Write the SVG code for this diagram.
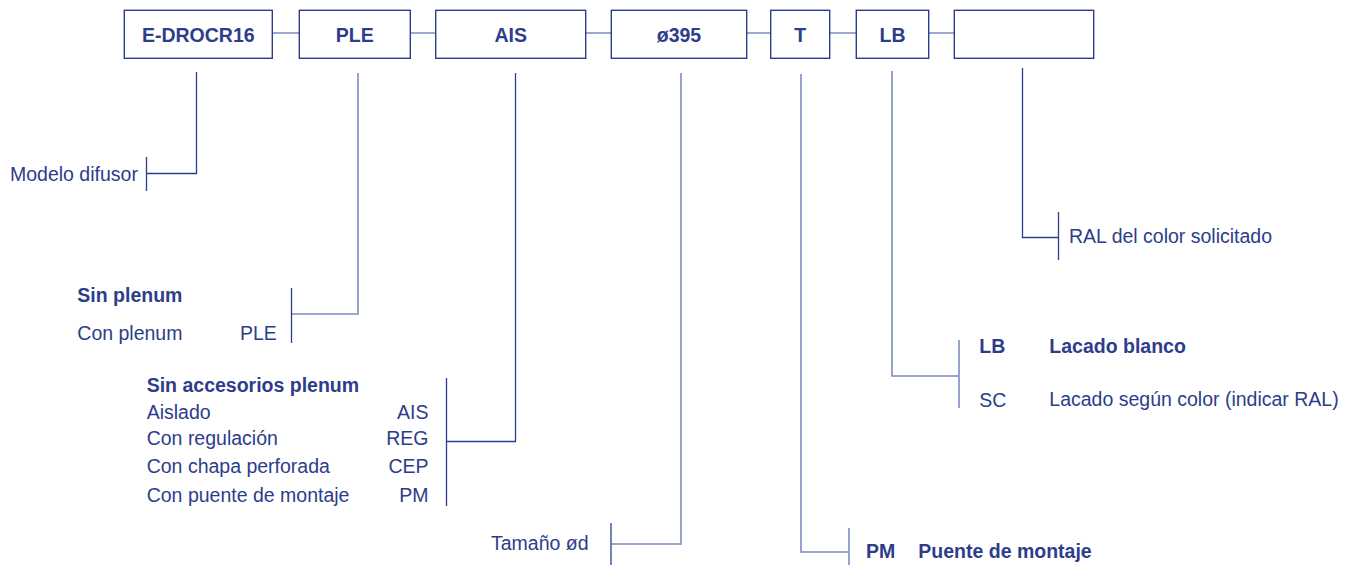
<svg xmlns="http://www.w3.org/2000/svg" width="1356" height="566" viewBox="0 0 1356 566">
<style>
text{font-family:"Liberation Sans",Arial,sans-serif;font-size:19.5px;fill:#2d3d8b}
.b{font-weight:bold}
.box{fill:#fff;stroke:#2d3d8b;stroke-width:1.4}
.ln{fill:none;stroke:#2d3d8b;stroke-width:1.3}
.lt{fill:none;stroke:#7e8cc2;stroke-width:1.6}
</style>
<rect width="1356" height="566" fill="#fff"/>
<g id="connectors">
<path class="lt" d="M272 33H299M410 33H436M586 33H611M747 33H771M830 33H856M929 33H954"/>
<path class="ln" d="M196.5 72V173.5H146.5M146.5 157V191"/>
<path class="lt" d="M358 73V314H291.5"/>
<path class="ln" d="M291.5 288V343"/>
<path class="ln" d="M515.5 73V441.5H446.5M446.5 378V506"/>
<path class="lt" d="M681 73V544H611"/>
<path class="ln" d="M611 523V565"/>
<path class="lt" d="M801 74V552H849"/>
<path class="lt" d="M849 528V565"/>
<path class="lt" d="M892 71V376H959M959 340V408"/>
<path class="ln" d="M1022.5 68V237.5H1058.5M1058.5 212V260"/>
</g>
<g id="n-model"><rect class="box" x="124.3" y="10.3" width="148" height="48"/><text class="b" x="198.3" y="42" text-anchor="middle">E-DROCR16</text></g>
<g id="n-ple"><rect class="box" x="299.3" y="10.3" width="111" height="48"/><text class="b" x="354.8" y="42" text-anchor="middle">PLE</text></g>
<g id="n-ais"><rect class="box" x="435.7" y="10.3" width="150" height="48"/><text class="b" x="510.7" y="42" text-anchor="middle">AIS</text></g>
<g id="n-size"><rect class="box" x="611.3" y="10.3" width="135.4" height="48"/><text class="b" x="679" y="42" text-anchor="middle">ø395</text></g>
<g id="n-t"><rect class="box" x="770.7" y="10.3" width="59" height="48"/><text class="b" x="800.2" y="42" text-anchor="middle">T</text></g>
<g id="n-lb"><rect class="box" x="856.3" y="10.3" width="72.4" height="48"/><text class="b" x="892.5" y="42" text-anchor="middle">LB</text></g>
<g id="n-ral"><rect class="box" x="954.3" y="10.3" width="139.4" height="48"/></g>
<g id="l-model"><text x="10" y="181">Modelo difusor</text></g>
<g id="l-ple">
<text class="b" x="77.3" y="302">Sin plenum</text>
<text x="77.3" y="340">Con plenum</text>
<text x="240" y="340">PLE</text>
</g>
<g id="l-ais">
<text class="b" x="146.7" y="392">Sin accesorios plenum</text>
<text x="146.7" y="419">Aislado</text>
<text x="146.7" y="445">Con regulación</text>
<text x="146.7" y="473">Con chapa perforada</text>
<text x="146.7" y="501.5">Con puente de montaje</text>
<text x="428.5" y="419" text-anchor="end">AIS</text>
<text x="428.5" y="445" text-anchor="end">REG</text>
<text x="428.5" y="473" text-anchor="end">CEP</text>
<text x="428.5" y="501.5" text-anchor="end">PM</text>
</g>
<g id="l-size"><text x="491" y="550">Tamaño  ød</text></g>
<g id="l-t"><text class="b" x="866" y="557.5">PM</text><text class="b" x="918.3" y="557.5">Puente de montaje</text></g>
<g id="l-lb">
<text class="b" x="979.3" y="353.3">LB</text>
<text class="b" x="1049.3" y="353.3">Lacado blanco</text>
<text x="979.3" y="407.3">SC</text>
<text x="1049.3" y="406">Lacado según color (indicar RAL)</text>
</g>
<g id="l-ral"><text x="1069" y="242.7">RAL del color solicitado</text></g>
</svg>
